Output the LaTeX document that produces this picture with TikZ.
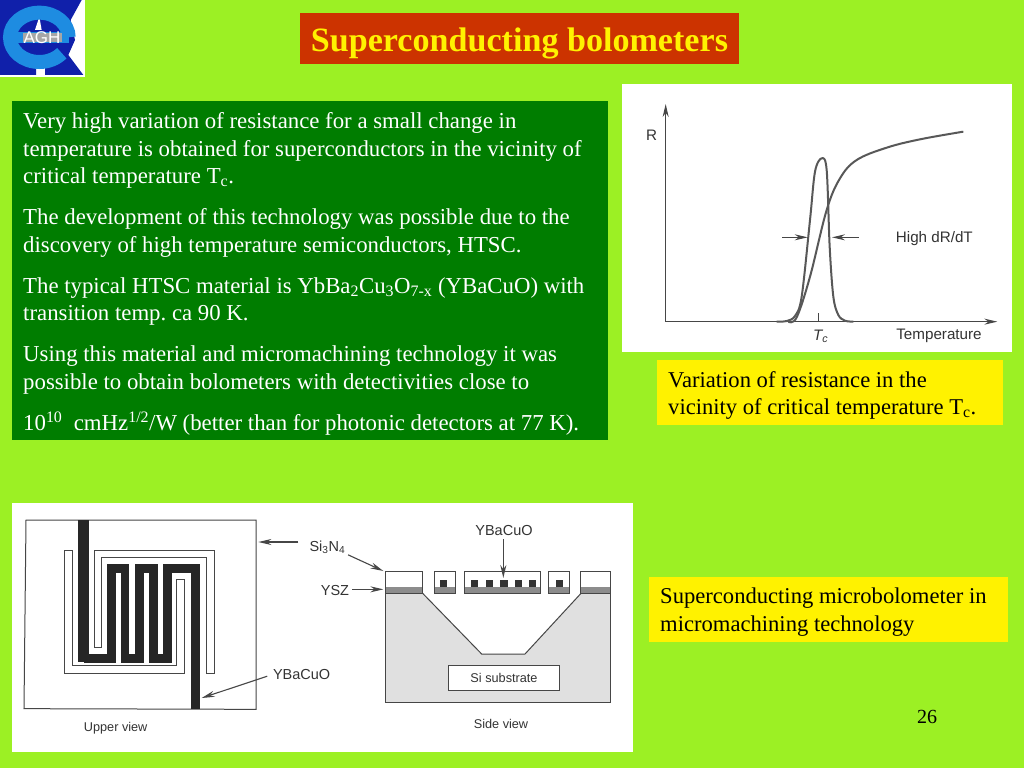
\documentclass[tikz,border=0pt]{standalone}
\usepackage{fontspec}
\setmainfont{Liberation Serif}
\newfontfamily\labelfont{Liberation Sans}
\usetikzlibrary{arrows.meta}
\definecolor{slidebg}{RGB}{156,240,36}
\definecolor{panelgreen}{RGB}{0,125,0}
\definecolor{titlered}{RGB}{204,51,0}
\definecolor{figink}{RGB}{70,70,70}
\definecolor{logoblue}{RGB}{16,32,170}
\definecolor{logoring}{RGB}{30,140,225}
\frenchspacing
\tikzset{
    notebox/.style={anchor=north west,fill=yellow,inner sep=0pt},
    notetext/.style={anchor=north west,text=black,inner sep=0pt,align=left,font=\fontsize{22.6}{27.5}\selectfont},
    figlabel/.style={inner sep=0pt,text=black!80,font=\labelfont\fontsize{14.5}{16}\selectfont},
    graphlabel/.style={figlabel,font=\labelfont\fontsize{15.2}{16}\selectfont},
    viewlabel/.style={figlabel,font=\labelfont\fontsize{12.7}{16}\selectfont},
    pointer/.style={figink,line width=1.1pt,-{Stealth[length=13pt,width=6pt]}},
    curve/.style={figink!90,line width=2pt,line join=round},
    thinframe/.style={draw=figink,line width=1pt}
}
\begin{document}
\begin{tikzpicture}[x=1pt,y=-1pt]
    \useasboundingbox (0,0) rectangle (1024,768);
    \fill[slidebg] (0,0) rectangle (1024,768);

    % Logo
    \begin{scope}[scale=1/3]
        \fill[white] (0,0) rectangle (255,230);
        \fill[logoblue] (0,0) -- (245,0) -- (212,60) -- (225,120) -- (205,165) -- (250,225) -- (135,225) -- (135,190) -- (108,190) -- (108,225) -- (0,225) -- cycle;
        \fill[white] (118,50) -- (105,90) -- (125,90) -- cycle;
        \draw[logoring,line width=14pt] (206,112) arc (0:-320:88 and 74);
        \fill[logoring] (50,96) rectangle (206,130);
        \fill[black!35] (68,100) rectangle (185,126);
        \node[text=white,inner sep=0pt,font=\labelfont\fontsize{17}{17}\selectfont] (logotext) at (126,114) {AGH};
    \end{scope}

    % Title
    \node[anchor=north west,fill=titlered,minimum width=439pt,minimum height=51pt,inner sep=0pt] (title) at (300,13) {};
    \node[text=yellow,inner sep=0pt,font=\bfseries\fontsize{34.1}{36}\selectfont] (titletext) at (519.5,43) {Superconducting bolometers};

    % Main text
    \node[anchor=north west,fill=panelgreen,minimum width=596pt,minimum height=339pt,inner sep=0pt] (panel) at (12,101) {};
    \node[anchor=north west,text=white,inner sep=0pt,align=left,font=\fontsize{22.8}{27.5}\selectfont] (maintext) at (23,112.5) {%
        Very high variation of resistance for a small change in\\
        temperature is obtained for superconductors in the vicinity of\\
        critical temperature T\textsubscript{c}.\\[13.5pt]
        The development of this technology was possible due to the\\
        discovery of high temperature semiconductors, HTSC.\\[13.5pt]
        The typical HTSC material is YbBa\textsubscript{2}Cu\textsubscript{3}O\textsubscript{7-x} (YBaCuO) with\\
        transition temp. ca 90 K.\\[13.5pt]
        Using this material and micromachining technology it was\\
        possible to obtain bolometers with detectivities close to\\[13.5pt]
        10\textsuperscript{10}\ \ cmHz\textsuperscript{1/2}/W (better than for photonic detectors at 77 K).};

    % Captions
    \node[notebox,minimum width=346pt,minimum height=65pt] (capcurvebox) at (657,360) {};
    \node[notetext] (capcurve) at (668,371) {Variation of resistance in the\\vicinity of critical temperature T\textsubscript{c}.};
    \node[notebox,minimum width=359pt,minimum height=65pt] (capbolobox) at (649,577) {};
    \node[notetext] (capbolo) at (660,588) {Superconducting microbolometer in\\micromachining technology};
    \node[text=black,font=\fontsize{20}{24}\selectfont] (pagenum) at (927,717) {26};

    % R(T) graph
    \fill[white] (622,84) rectangle (1012,352);
    \begin{scope}[shift={(620,80)},scale=1/3]
        \coordinate (origin) at (137,725);
        \coordinate (rtop) at (137,72);
        \coordinate (tend) at (1132,725);
        \draw[pointer] (origin) -- (rtop);
        \draw[pointer] (origin) -- (tend);
        \draw[figink,line width=0.8pt] (594,700) -- (594,725);
        \draw[curve] plot[smooth,tension=0.6] coordinates {(505,725) (530,712) (570,590) (620,390) (660,295) (710,240) (800,203) (900,178) (1030,155)};
        \draw[curve] plot[smooth,tension=0.55] coordinates {(470,725) (500,723) (525,708) (545,650) (570,420) (585,275) (605,235) (620,270) (629,500) (640,650) (655,705) (675,722) (700,725)};
        \coordinate (leftin) at (563,472);
        \coordinate (rightin) at (636,472);
        \coordinate (leftout) at (487,472);
        \coordinate (rightout) at (716,472);
        \draw[pointer] (leftout) -- (leftin);
        \draw[pointer] (rightout) -- (rightin);
        \node[graphlabel] (rlabel) at (95,165) {R};
        \node[graphlabel] (slope) at (943,476) {High dR/dT};
        \node[graphlabel] (tclabel) at (602,770) {\itshape T\textsubscript{c}};
        \node[graphlabel] (templabel) at (957,768) {Temperature};
    \end{scope}

    % Device figure
    \fill[white] (12,503) rectangle (633,752);

    % Upper view
    \begin{scope}[shift={(0,500)},scale=1/3]
        \draw[thinframe] (78,60) -- (768,60) -- (768,628) -- (72,626) -- cycle;
        \draw[thinframe] (192,150) -- (216,150) -- (216,497) -- (528,497) -- (528,237) -- (552,237) -- (552,520) -- (192,520) -- cycle;
        \draw[thinframe] (283,150) -- (642,150) -- (642,520) -- (620,520) -- (620,172) -- (305,172) -- (305,442) -- (283,442) -- cycle;
        \fill[black!85] (235,60) rectangle (268,487);
        \draw[black!85,line width=8.8pt,line join=miter] (251,476) -- (334,476) -- (334,205) -- (375,205) -- (375,476) -- (418,476) -- (418,205) -- (460,205) -- (460,476) -- (502,476) -- (502,205) -- (586,205) -- (586,628);
        \node[viewlabel] (upperview) at (347,686) {Upper view};
        \node[figlabel] (filmtop) at (905,523) {YBaCuO};
        \coordinate (frametip) at (775,126);
        \coordinate (filmtip) at (605,594);
    \end{scope}

    % Side view
    \begin{scope}[shift={(300,500)},scale=1/3]
        \fill[black!12] (255,280) -- (368,280) -- (545,462) -- (675,462) -- (843,280) -- (932,280) -- (932,606) -- (255,606) -- cycle;
        \draw[figink,line width=1pt] (368,280) -- (545,462) -- (675,462) -- (843,280);
        \draw[figink,line width=1pt] (255,280) -- (255,606) -- (932,606) -- (932,280);
        \foreach \xa/\xb in {255/368,402/465,493/722,746/808,842/932}{
            \draw[thinframe,fill=white] (\xa,215) rectangle (\xb,280);
            \fill[black!45] (\xa,260) rectangle (\xb,280);
            \draw[thinframe] (\xa,215) rectangle (\xb,280);
        }
        \foreach \xc in {430,523,568,612,655,697,778}
            \fill[black!80] (\xc-11,239) rectangle (\xc+11,261);
        \node[thinframe,fill=white,minimum width=111pt,minimum height=25pt,inner sep=0pt,text=black!80,font=\labelfont\fontsize{12.7}{16}\selectfont] (substrate) at (612,535) {Si substrate};
        \node[viewlabel] (sideview) at (603,673) {Side view};
        \node[figlabel] (nitride) at (82,141) {Si\textsubscript{3}N\textsubscript{4}};
        \node[figlabel] (buffer) at (105,273) {YSZ};
        \node[figlabel] (filmside) at (612,92) {YBaCuO};
        \coordinate (nitridetip) at (250,213);
        \coordinate (buffertip) at (250,268);
        \coordinate (filmsidetip) at (610,234);
    \end{scope}

    % Pointers
    \draw[pointer,shorten <=11pt] (nitride.west |- frametip) -- (frametip);
    \draw[pointer,shorten <=3pt] (nitride.south east) -- (nitridetip);
    \draw[pointer,shorten <=3pt] (buffer.east |- buffertip) -- (buffertip);
    \draw[pointer,shorten <=3pt] (filmside.south -| filmsidetip) -- (filmsidetip);
    \draw[pointer,shorten <=6pt] (filmtop.west) -- (filmtip);
\end{tikzpicture}
\end{document}
